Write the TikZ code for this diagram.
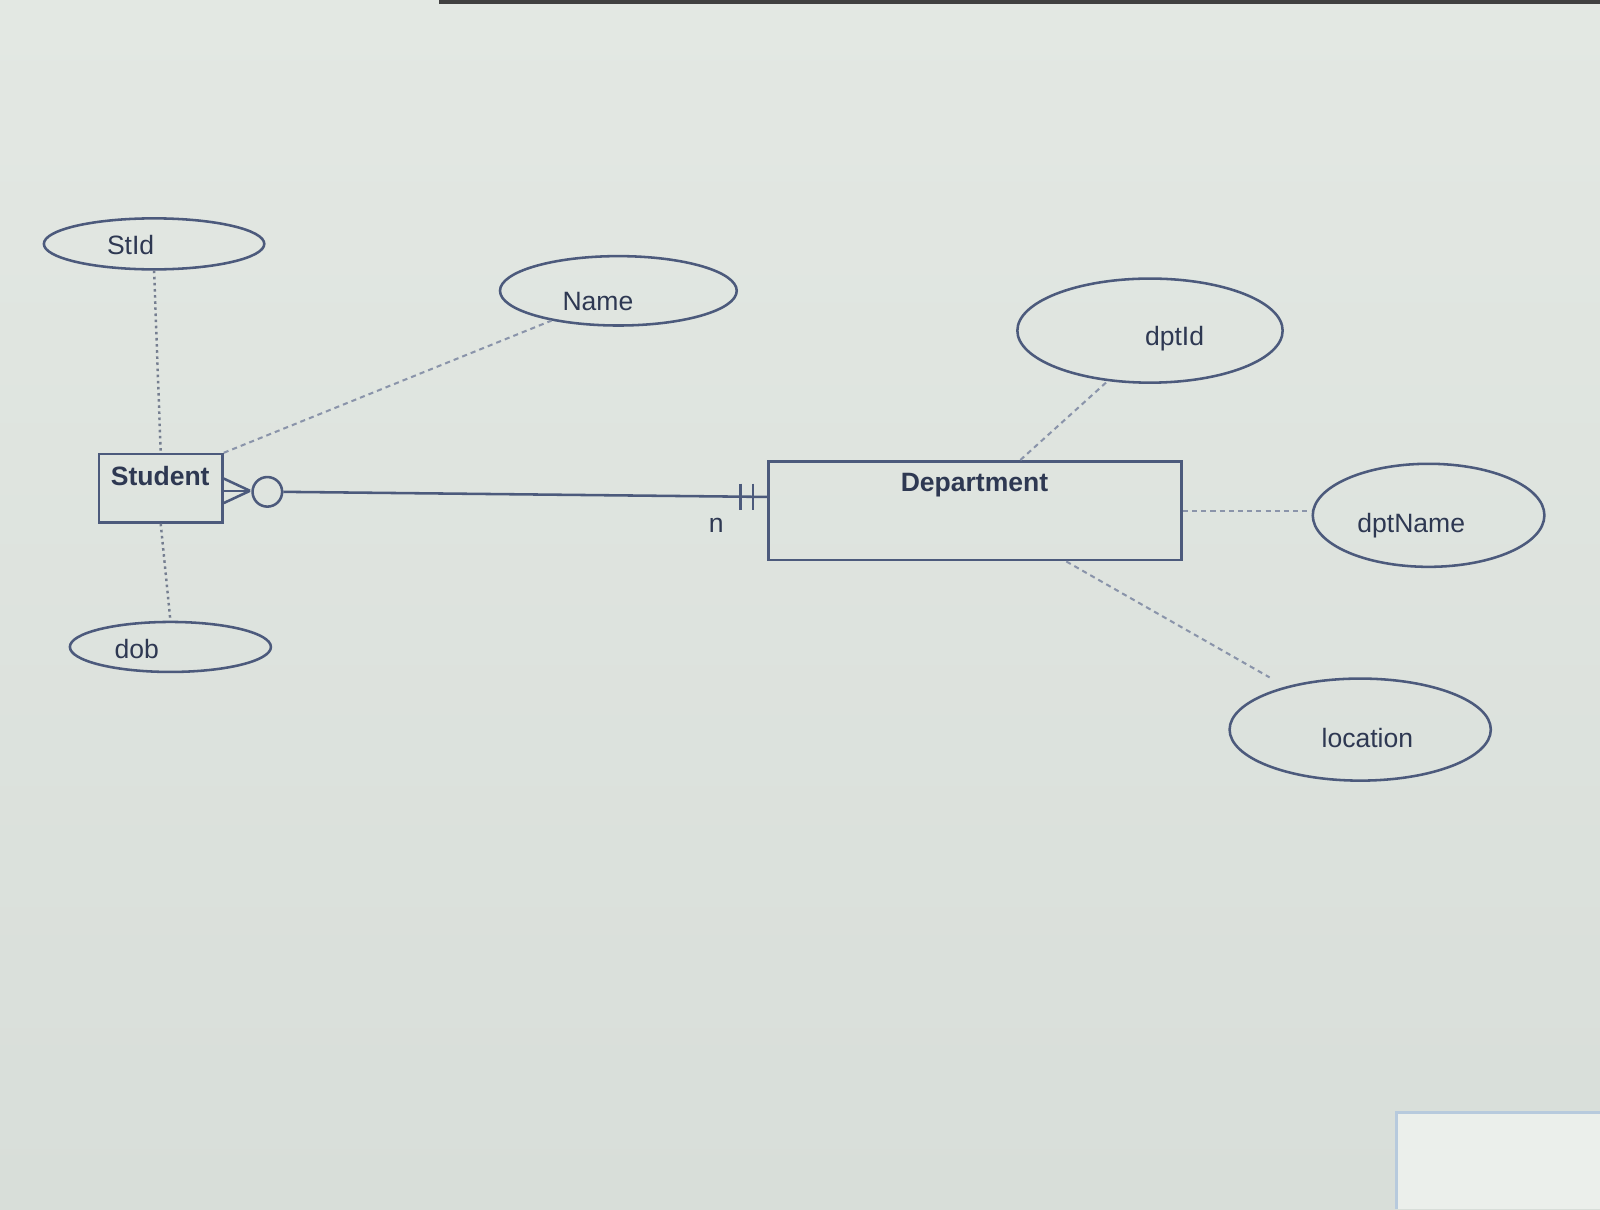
\documentclass[tikz,border=0pt]{standalone}
\usepackage{fontspec}
\setmainfont{Liberation Sans}
\usetikzlibrary{shapes.geometric}
\definecolor{bgtop}{HTML}{E3E8E3}
\definecolor{bgbot}{HTML}{D8DED9}
\definecolor{linec}{HTML}{4C5A7C}
\definecolor{dashc}{HTML}{8A94AA}
\definecolor{txtc}{HTML}{2E3852}
\definecolor{panelc}{HTML}{B7CADD}
\begin{document}
\begin{tikzpicture}[x=1pt,y=-1pt,
  attr/.style={draw=linec, line width=2.5pt, ellipse, inner sep=0pt},
  ent/.style={draw=linec, line width=2.5pt, rectangle, inner sep=0pt},
  lbl/.style={text=txtc, font=\fontsize{26}{30}\selectfont, anchor=base, inner sep=0pt},
  blbl/.style={lbl, font=\fontsize{26}{30}\selectfont\bfseries},
  conn/.style={draw=dashc, line width=2pt, dash pattern=on 5pt off 4pt},
  dotconn/.style={draw=dashc!85!black, line width=2.4pt, dash pattern=on 2.5pt off 3.5pt},
  rel/.style={draw=linec, line width=2.5pt}
]
\useasboundingbox (0,0) rectangle (1568,1185);
\shade[top color=bgtop, bottom color=bgbot] (0,0) rectangle (1568,1185);
\fill[black!75] (430,0) rectangle (1568,4);
\fill[bgtop!70!white] (1369,1090) rectangle (1568,1185);
\draw[panelc, line width=3pt] (1369,1185) -- (1369,1090) -- (1568,1090);

% entities
\node[ent, minimum width=121pt, minimum height=67pt] (student) at (157.5,478.5) {};
\node[blbl] (studentT) at (157,476) {Student};
\node[ent, minimum width=405pt, minimum height=97pt] (dept) at (955.5,500.5) {};
\node[blbl] (deptT) at (955,482) {Department};

% attributes
\node[attr, minimum width=216pt, minimum height=50pt] (stid) at (151,239) {};
\node[lbl] (stidT) at (128,249) {StId};
\node[attr, minimum width=232pt, minimum height=68pt] (name) at (606,285) {};
\node[lbl] (nameT) at (586,304) {Name};
\node[attr, minimum width=197pt, minimum height=49pt] (dob) at (167,634) {};
\node[lbl] (dobT) at (134,645) {dob};
\node[attr, minimum width=260pt, minimum height=102pt] (dptid) at (1127,324) {};
\node[lbl] (dptidT) at (1151,339) {dptId};
\node[attr, minimum width=227pt, minimum height=101pt] (dptname) at (1400,505) {};
\node[lbl] (dptnameT) at (1383,522) {dptName};
\node[attr, minimum width=256pt, minimum height=100pt] (location) at (1333,715) {};
\node[lbl] (locationT) at (1340,733) {location};

% attribute connectors
\draw[dotconn] (stid.south) -- (student.north);
\draw[dotconn] (student.south) -- (dob.north);
\draw[conn] (student.north east) -- (name.204);
\draw[conn] ([xshift=44.5pt]dept.north) -- (dptid.230);
\draw[conn] (dept.east) -- (dept.east -| dptname.west);
\draw[conn, shorten >=18pt] ([xshift=89.5pt]dept.south) -- (location.150);

% relationship
\coordinate (cf) at (245,481);
\node[draw=linec, line width=2.5pt, circle, minimum size=29pt, inner sep=0pt] (opt) at (262,482) {};
\draw[rel] ([yshift=9.5pt]student.east) -- (cf);
\draw[rel] ([yshift=-2.5pt]student.east) -- (cf);
\draw[rel] ([yshift=-14.5pt]student.east) -- (cf);
\coordinate (relend) at ([yshift=13.5pt]dept.west);
\draw[rel] (opt.east) -- (relend);
\draw[rel] ([xshift=-26pt,yshift=13pt]relend) -- ([xshift=-26pt,yshift=-13pt]relend);
\draw[rel] ([xshift=-14pt,yshift=13pt]relend) -- ([xshift=-14pt,yshift=-13pt]relend);
\node[lbl] (nT) at (702,522) {n};
\end{tikzpicture}
\end{document}
